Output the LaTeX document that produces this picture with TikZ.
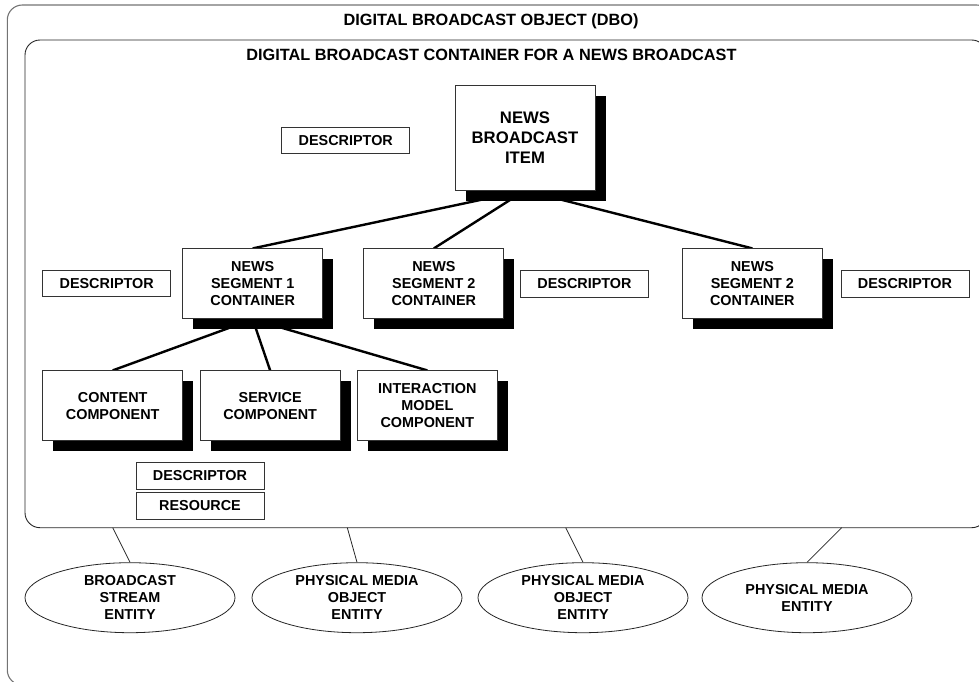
\documentclass[tikz,border=0pt]{standalone}
\usepackage{fontspec}
\setmainfont{Liberation Sans}
\usetikzlibrary{shapes.geometric,shadows}
\pgfdeclarelayer{background}
\pgfsetlayers{background,main}

\begin{document}
\begin{tikzpicture}[x=1pt,y=-1pt,
  tx/.style={font=\bfseries\fontsize{14.4}{17}\selectfont, align=center, text=black},
  ttl/.style={font=\bfseries\fontsize{16.3}{19}\selectfont, anchor=base},
  shbox/.style={tx, draw=black!80, line width=0.9pt, fill=white,
    minimum width=140pt, minimum height=70pt, inner sep=0pt,
    drop shadow={shadow xshift=10.5pt, shadow yshift=-10.5pt, fill=black, opacity=1}},
  tag/.style={tx, draw=black!80, line width=0.9pt, fill=white,
    minimum width=128pt, minimum height=26.5pt, inner sep=0pt},
  entity/.style={tx, ellipse, draw=black!85, line width=0.8pt, fill=white,
    minimum width=210pt, minimum height=70pt, inner sep=0pt},
  link/.style={line width=2.4pt, black},
  tie/.style={line width=0.8pt, black!85}]
\useasboundingbox (0,0) rectangle (979,681);

% outer object and inner container frames
\draw[rounded corners=15pt, draw=black!55, line width=1.1pt] (7.3,5) rectangle (991.7,685);
\draw[rounded corners=15pt, draw=black!85, line width=0.9pt] (25,40) rectangle (986.7,527.7);
\node[ttl] (dbo) at (491,25.5) {DIGITAL BROADCAST OBJECT (DBO)};
\node[ttl] (dbc) at (491.5,60.5) {DIGITAL BROADCAST CONTAINER FOR A NEWS BROADCAST};

% item and segment containers
\node[shbox, minimum height=104.3pt, font=\bfseries\fontsize{16.7}{20}\selectfont] (item) at (525,137.85) {NEWS\\BROADCAST\\ITEM};
\node[shbox] (seg1) at (252.7,283.85) {NEWS\\SEGMENT 1\\CONTAINER};
\node[shbox] (seg2) at (433.85,283.85) {NEWS\\SEGMENT 2\\CONTAINER};
\node[shbox] (seg3) at (752.35,283.85) {NEWS\\SEGMENT 2\\CONTAINER};

% components of segment 1
\node[shbox] (content) at (112.7,405.85) {CONTENT\\COMPONENT};
\node[shbox] (service) at (270.15,405.85) {SERVICE\\COMPONENT};
\node[shbox, minimum width=140.7pt] (interact) at (427.35,405.85) {INTERACTION\\MODEL\\COMPONENT};

% descriptors and resource
\node[tag] (dtop) at (345.8,140.3) {DESCRIPTOR};
\node[tag] (dleft) at (106.7,283.6) {DESCRIPTOR};
\node[tag] (dmid) at (584.5,283.85) {DESCRIPTOR};
\node[tag] (dright) at (905,283.85) {DESCRIPTOR};
\node[tag] (dbot) at (200,475.85) {DESCRIPTOR};
\node[tag, minimum height=27pt] (res) at (200,505.8) {RESOURCE};

% entities below the container
\node[entity] (e1) at (130,597.7) {BROADCAST\\STREAM\\ENTITY};
\node[entity] (e2) at (357,597.7) {PHYSICAL MEDIA\\OBJECT\\ENTITY};
\node[entity] (e3) at (583,597.7) {PHYSICAL MEDIA\\OBJECT\\ENTITY};
\node[entity] (e4) at (807,597.7) {PHYSICAL MEDIA\\ENTITY};

\coordinate (t1) at (112.7,527.7);
\coordinate (t2) at (347.3,527.7);
\coordinate (t3) at (565.7,527.7);
\coordinate (t4) at (841.7,527.7);

\begin{pgfonlayer}{background}
  \draw[link] (item.south) -- (seg1.north);
  \draw[link] (item.south) -- (seg2.north);
  \draw[link] (item.south) -- (seg3.north);
  \draw[link] (seg1.south) -- (content.north);
  \draw[link] (seg1.south) -- (service.north);
  \draw[link] (seg1.south) -- (interact.north);
  \draw[tie] (t1) -- (e1.north);
  \draw[tie] (t2) -- (e2.north);
  \draw[tie] (t3) -- (e3.north);
  \draw[tie] (t4) -- (e4.north);
\end{pgfonlayer}
\end{tikzpicture}
\end{document}
